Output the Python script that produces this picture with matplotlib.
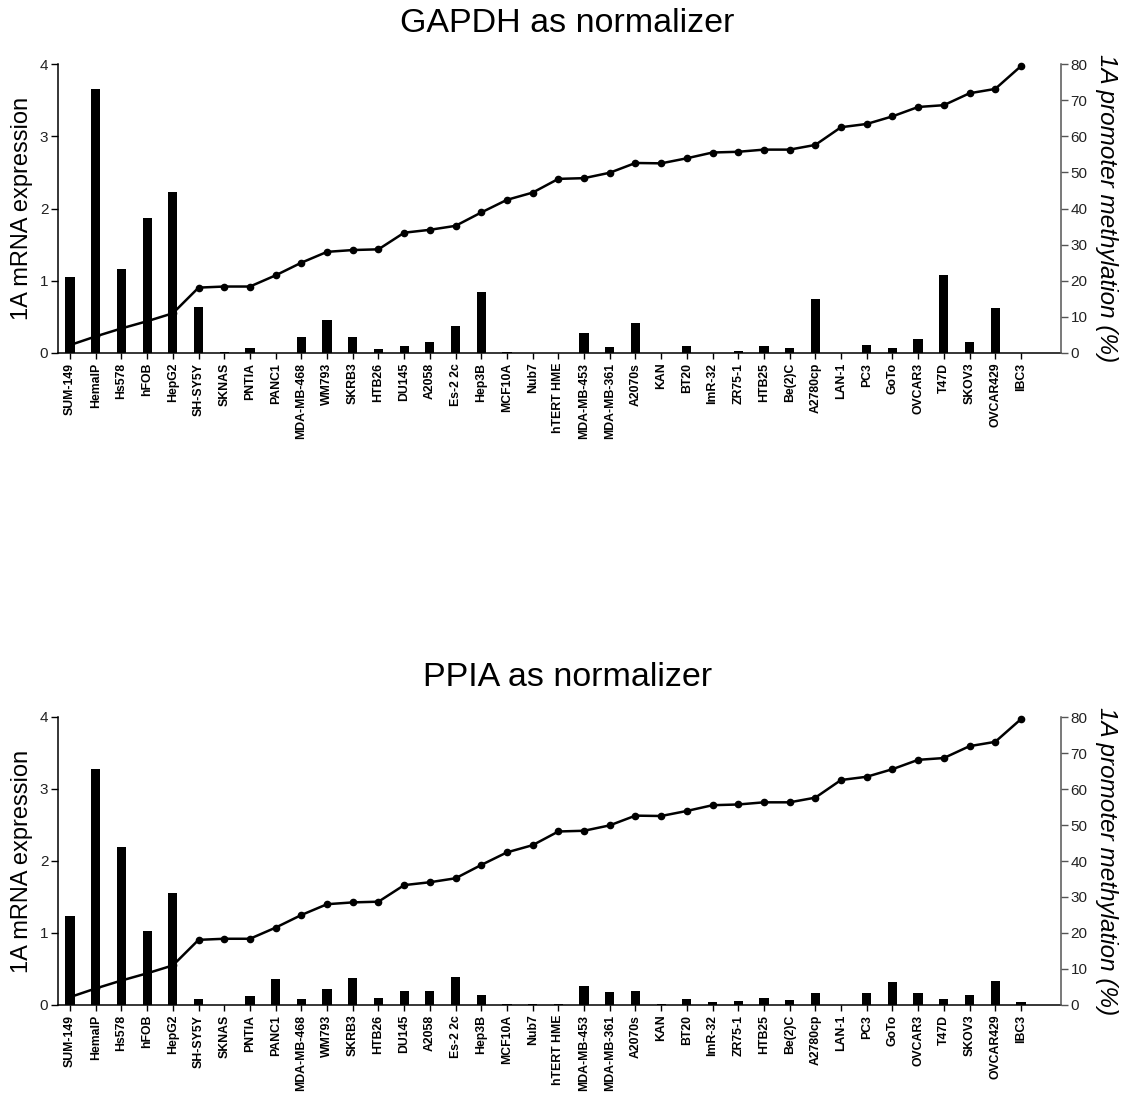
import numpy as np
import matplotlib
matplotlib.use("Agg")
import matplotlib.pyplot as plt

plt.rcParams["font.family"] = ["Liberation Sans", "DejaVu Sans"]

# ── Data ──────────────────────────────────────────────────────────────────────
cell_lines = [
    "SUM-149", "HemalP", "Hs578", "hFOB", "HepG2", "SH-SY5Y", "SKNAS", "PNTIA",
    "PANC1", "MDA-MB-468", "WM793", "SKRB3", "HTB26", "DU145", "A2058",
    "Es-2 2c", "Hep3B", "MCF10A", "Nub7", "hTERT HME", "MDA-MB-453",
    "MDA-MB-361", "A2070s", "KAN", "BT20", "ImR-32", "ZR75-1", "HTB25",
    "Be(2)C", "A2780cp", "LAN-1", "PC3", "GoTo", "OVCAR3", "T47D", "SKOV3",
    "OVCAR429", "IBC3",
]

# 1A promoter methylation (%), same series on both panels
methylation = [
    2.2, 4.6, 6.8, 8.8, 11.0, 18.1, 18.4, 18.4, 21.5, 25.0, 28.0, 28.5, 28.7,
    33.3, 34.1, 35.2, 38.9, 42.4, 44.4, 48.2, 48.4, 49.9, 52.6, 52.5, 53.9,
    55.5, 55.7, 56.3, 56.3, 57.6, 62.5, 63.4, 65.5, 68.1, 68.6, 71.9, 73.1,
    79.4,
]

# 1A mRNA expression, GAPDH-normalised
expr_gapdh = [
    1.05, 3.66, 1.16, 1.87, 2.23, 0.64, 0.02, 0.065, 0.0, 0.226, 0.45, 0.226,
    0.05, 0.10, 0.15, 0.38, 0.84, 0.02, 0.0, 0.0, 0.27, 0.08, 0.415, 0.0,
    0.10, 0.0, 0.03, 0.09, 0.065, 0.75, 0.0, 0.115, 0.065, 0.19, 1.075, 0.15,
    0.62, 0.0,
]

# 1A mRNA expression, PPIA-normalised
expr_ppia = [
    1.235, 3.28, 2.20, 1.03, 1.55, 0.083, 0.0, 0.12, 0.356, 0.083, 0.227,
    0.37, 0.10, 0.194, 0.194, 0.39, 0.134, 0.018, 0.018, 0.018, 0.26, 0.176,
    0.194, 0.018, 0.083, 0.037, 0.055, 0.10, 0.07, 0.166, 0.0, 0.166, 0.32,
    0.166, 0.083, 0.134, 0.34, 0.037,
]

panels = [
    ("GAPDH as normalizer", expr_gapdh),
    ("PPIA as normalizer", expr_ppia),
]

# ── Figure ────────────────────────────────────────────────────────────────────
W, H = 1129, 1095
fig = plt.figure(figsize=(W / 100, H / 100), dpi=100)

x = np.arange(len(cell_lines))
axis_px = [(64, 353), (717, 1005)]     # (top, bottom) of each plot, pixels
title_px = [23, 677]
left_px, right_px = 58, 1061

for (title, expr), (top, bot), ty in zip(panels, axis_px, title_px):
    ax = fig.add_axes([left_px / W, 1 - bot / H,
                       (right_px - left_px) / W, (bot - top) / H])
    ax.bar(x, expr, width=0.36, color="black", zorder=3)
    ax.set_xlim(-0.47, 38.56)
    ax.set_ylim(0, 4)
    ax.set_yticks([0, 1, 2, 3, 4])
    ax.set_xticks(x)
    ax.set_xticklabels(cell_lines, rotation=90, fontsize=8.8,
                       fontweight="bold")
    ax.tick_params(axis="x", length=4, width=1, pad=3)
    ax.tick_params(axis="y", length=5, width=1, labelsize=11,
                   labelcolor="#222222", pad=2)
    ax.set_ylabel("1A mRNA expression", fontsize=17, labelpad=5)
    ax.spines["top"].set_visible(False)
    ax.spines["right"].set_visible(False)
    ax.spines["left"].set_linewidth(1.1)
    ax.spines["bottom"].set_linewidth(1.1)

    ax2 = ax.twinx()
    ax2.plot(x, methylation, color="black", lw=1.8, marker="o",
             markersize=4.5, zorder=2, clip_on=False)
    ax2.set_ylim(0, 80)
    ax2.set_yticks(range(0, 81, 10))
    ax2.tick_params(axis="y", length=5, width=1, labelsize=11,
                    labelcolor="#222222", color="#555555", pad=2)
    ax2.set_ylabel("1A promoter methylation (%)", fontsize=17.5,
                   style="italic", rotation=270, labelpad=22)
    ax2.spines["top"].set_visible(False)
    ax2.spines["left"].set_visible(False)
    ax2.spines["bottom"].set_visible(False)
    ax2.spines["right"].set_color("#555555")
    ax2.spines["right"].set_linewidth(1.1)

    fig.text(0.5 + 3 / W, 1 - ty / H, title, ha="center", va="center",
             fontsize=24.5)

fig.savefig("out.png", dpi=100)
